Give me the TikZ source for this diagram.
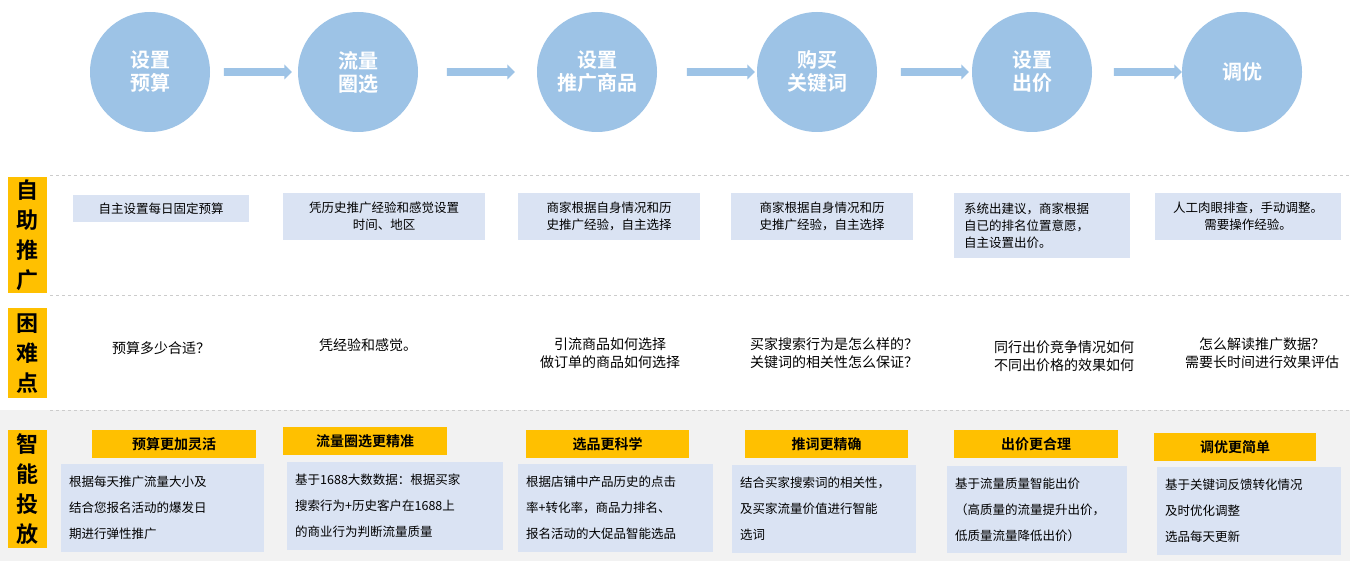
\documentclass[tikz,border=0pt]{standalone}
\usepackage{fontspec}
\setmainfont{Noto Sans CJK SC}
\newfontfamily\cjkb{Noto Sans CJK SC Bold}
\usetikzlibrary{shapes.arrows}
\definecolor{cb}{HTML}{9DC3E6}
\definecolor{lb}{HTML}{DAE3F3}
\definecolor{yl}{HTML}{FFC000}
\definecolor{gbg}{HTML}{F2F2F2}
\begin{document}
\begin{tikzpicture}[x=1pt,y=-1pt,
 circ/.style={circle,fill=cb,minimum size=120pt,inner sep=0,text=white,font=\cjkb\fontsize{20}{23}\selectfont,align=center},
 arr/.style={single arrow,fill=cb,minimum height=68pt,minimum width=15pt,single arrow head extend=3.5pt,inner sep=3.5pt},
 tb/.style={fill=lb,font=\fontsize{12.5}{17}\selectfont,align=left,anchor=north west,inner sep=0},
 hd/.style={fill=yl,font=\cjkb\fontsize{14}{16}\selectfont,anchor=north west,inner sep=0},
 lab/.style={fill=yl,font=\cjkb\fontsize{22}{30}\selectfont,align=center,anchor=north west,inner sep=0},
 pt/.style={font=\fontsize{14}{18}\selectfont,align=center}]
\useasboundingbox (0,0) rectangle (1350,561);
\fill[white] (0,0) rectangle (1350,561);
\fill[gbg] (0,410) rectangle (1350,561);
\foreach \y in {175,295,410} \draw[gray!40,dashed] (50,\y)--(1350,\y);
\node[circ] (c1) at (150,72) {设置\\预算};
\node[circ] (c2) at (358,72) {流量\\圈选};
\node[circ] (c3) at (597,72) {设置\\推广商品};
\node[circ] (c4) at (817,72) {购买\\关键词};
\node[circ] (c5) at (1032,72) {设置\\出价};
\node[circ] (c6) at (1242,72) {调优};
\node[arr] (a1) at (256,72) {};
\node[arr] (a2) at (479,72) {};
\node[arr] (a3) at (719,72) {};
\node[arr] (a4) at (933,72) {};
\node[arr] (a5) at (1146,72) {};
\node[lab,minimum width=39pt,minimum height=116pt] (l1) at (8,177) {自\\助\\推\\广};
\node[lab,minimum width=39pt,minimum height=90pt] (l2) at (8,308) {困\\难\\点};
\node[lab,minimum width=39pt,minimum height=118pt] (l3) at (8,430) {智\\能\\投\\放};
% row 1
\node[tb,minimum width=176pt,minimum height=27pt,align=center] (r1) at (73,195) {\parbox{176pt}{\centering 自主设置每日固定预算}};
\node[tb,minimum width=202pt,minimum height=47pt] (r2) at (283,193) {\parbox{202pt}{\centering 凭历史推广经验和感觉设置\\时间、地区}};
\node[tb,minimum width=182pt,minimum height=47pt] (r3) at (518,193) {\parbox{182pt}{\centering 商家根据自身情况和历\\史推广经验，自主选择}};
\node[tb,minimum width=182pt,minimum height=47pt] (r4) at (731,193) {\parbox{182pt}{\centering 商家根据自身情况和历\\史推广经验，自主选择}};
\node[tb,minimum width=176pt,minimum height=65pt] (r5) at (954,193) {\parbox{176pt}{\hspace*{10pt}\parbox{160pt}{系统出建议，商家根据\\自已的排名位置意愿，\\自主设置出价。}}};
\node[tb,minimum width=186pt,minimum height=47pt] (r6) at (1155,193) {\parbox{186pt}{\centering 人工肉眼排查，手动调整。\\需要操作经验。}};
% row 2
\node[pt] (p1) at (161,348) {预算多少合适？};
\node[pt] (p2) at (368,345) {凭经验和感觉。};
\node[pt] (p3) at (610,353) {引流商品如何选择\\做订单的商品如何选择};
\node[pt] (p4) at (834,353) {买家搜索行为是怎么样的？\\关键词的相关性怎么保证？};
\node[pt] (p5) at (1064,356) {同行出价竞争情况如何\\不同出价格的效果如何};
\node[pt] (p6) at (1262,353) {怎么解读推广数据？\\需要长时间进行效果评估};
% row 3
\node[hd,minimum width=164pt,minimum height=28pt] (h1) at (92,430) {预算更加灵活};
\node[hd,minimum width=164pt,minimum height=28pt] (h2) at (283,427) {流量圈选更精准};
\node[hd,minimum width=163pt,minimum height=28pt] (h3) at (526,430) {选品更科学};
\node[hd,minimum width=163pt,minimum height=28pt] (h4) at (745,430) {推词更精确};
\node[hd,minimum width=164pt,minimum height=28pt] (h5) at (954,430) {出价更合理};
\node[hd,minimum width=162pt,minimum height=28pt] (h6) at (1154,433) {调优更简单};
\tikzset{bb/.style={tb,font=\fontsize{12.5}{26}\selectfont}}
\node[bb,minimum width=203pt,minimum height=88pt] (b1) at (61,464) {\parbox{203pt}{\hspace*{8pt}\parbox{190pt}{根据每天推广流量大小及\\结合您报名活动的爆发日\\期进行弹性推广}}};
\node[bb,minimum width=216pt,minimum height=88pt] (b2) at (287,462) {\parbox{216pt}{\hspace*{8pt}\parbox{205pt}{基于1688大数数据：根据买家\\搜索行为+历史客户在1688上\\的商业行为判断流量质量}}};
\node[bb,minimum width=195pt,minimum height=88pt] (b3) at (518,464) {\parbox{195pt}{\hspace*{8pt}\parbox{185pt}{根据店铺中产品历史的点击\\率+转化率，商品力排名、\\报名活动的大促品智能选品}}};
\node[bb,minimum width=184pt,minimum height=88pt] (b4) at (732,465) {\parbox{184pt}{\hspace*{8pt}\parbox{175pt}{结合买家搜索词的相关性，\\及买家流量价值进行智能\\选词}}};
\node[bb,minimum width=180pt,minimum height=87pt] (b5) at (947,466) {\parbox{180pt}{\hspace*{8pt}\parbox{170pt}{基于流量质量智能出价\\（高质量的流量提升出价，\\低质量流量降低出价）}}};
\node[bb,minimum width=184pt,minimum height=88pt] (b6) at (1157,467) {\parbox{184pt}{\hspace*{8pt}\parbox{175pt}{基于关键词反馈转化情况\\及时优化调整\\选品每天更新}}};
\end{tikzpicture}
\end{document}
